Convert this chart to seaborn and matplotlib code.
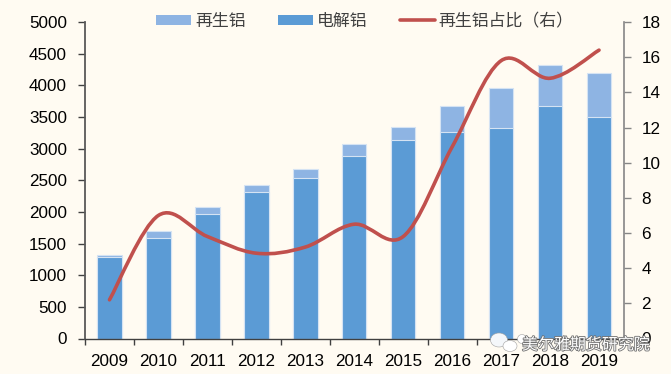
import numpy as np
import pandas as pd
import seaborn as sns
import matplotlib
matplotlib.use("Agg")
import matplotlib.pyplot as plt
import matplotlib.patheffects as pe
from matplotlib.lines import Line2D
from matplotlib.patches import Patch, PathPatch, Ellipse
from matplotlib.path import Path

years = ["2009", "2010", "2011", "2012", "2013", "2014", "2015", "2016", "2017", "2018", "2019"]
electrolytic = [1280, 1580, 1960, 2310, 2540, 2890, 3140, 3270, 3330, 3680, 3500]
recycled = [40, 120, 120, 120, 140, 190, 200, 400, 620, 640, 700]
share = [2.2, 7.0, 5.8, 4.85, 5.2, 6.5, 5.8, 10.9, 15.8, 14.8, 16.4]

BG = "#FFFBF2"
DARK_BLUE = "#5B9BD5"
LIGHT_BLUE = "#8EB4E3"
RED = "#C0504D"
EDGE = "#D5E3F3"
CJK = ["Noto Sans CJK SC", "DejaVu Sans"]


# Excel style smoothed line, as bezier segments through the values
def smooth_path(x, y, tension=0.17):
    x = np.asarray(x, dtype=float)
    y = np.asarray(y, dtype=float)
    verts = [(x[0], y[0])]
    codes = [Path.MOVETO]
    for i in range(len(x) - 1):
        p0 = i - 1 if i > 0 else i
        p3 = i + 2 if i + 2 < len(x) else i + 1
        verts.append((x[i] + (x[i + 1] - x[p0]) * tension, y[i] + (y[i + 1] - y[p0]) * tension))
        verts.append((x[i + 1] - (x[p3] - x[i]) * tension, y[i + 1] - (y[p3] - y[i]) * tension))
        verts.append((x[i + 1], y[i + 1]))
        codes += [Path.CURVE4] * 3
    return Path(verts, codes)


def main():
    sns.set_theme(style="ticks")
    plt.rcParams["font.family"] = ["Liberation Sans", "DejaVu Sans"]

    df = pd.DataFrame({"year": years, "electrolytic": electrolytic, "recycled": recycled})
    df["total"] = df["electrolytic"] + df["recycled"]

    fig = plt.figure(figsize=(6.71, 3.74), dpi=100, facecolor=BG)
    ax = fig.add_axes([85 / 671, 35.5 / 374, 538.5 / 671, 316.5 / 374], facecolor=BG)

    sns.barplot(data=df, x="year", y="total", color=LIGHT_BLUE, saturation=1, width=0.5,
                edgecolor=EDGE, linewidth=0.8, ax=ax)
    sns.barplot(data=df, x="year", y="electrolytic", color=DARK_BLUE, saturation=1, width=0.5,
                edgecolor=EDGE, linewidth=0.8, ax=ax)

    ax.set_xlim(-0.5, len(years) - 0.5)
    ax.set_ylim(0, 5000)
    ax.set_yticks(range(0, 5001, 500))
    ax.set_xlabel("")
    ax.set_ylabel("")

    # ticks sit between the categories, labels in the middle
    ax.set_xticks(np.arange(len(years) + 1) - 0.5)
    ax.set_xticklabels([])
    ax.set_xticks(np.arange(len(years)), labels=years, minor=True)
    ax.tick_params(axis="x", which="major", length=4, width=1, color="#404040")
    ax.tick_params(axis="x", which="minor", length=0, labelsize=12.3, pad=11, labelcolor="black")
    ax.tick_params(axis="y", length=5, width=1, color="#404040", labelsize=12.3, pad=8, labelcolor="black")

    ax2 = ax.twinx()
    ax2.set_ylim(0, 18)
    ax2.set_yticks(range(0, 19, 2))
    ax2.tick_params(axis="y", length=5, width=1, color="#868686", labelsize=12.3, pad=8, labelcolor="black")
    ax2.add_patch(PathPatch(smooth_path(range(len(years)), share), facecolor="none", edgecolor=RED,
                            linewidth=2.6, capstyle="round", joinstyle="round", zorder=5))

    for a in (ax, ax2):
        a.spines["top"].set_visible(False)
    ax.spines["left"].set_color("#595959")
    ax.spines["left"].set_linewidth(1.3)
    ax.spines["bottom"].set_color("#404040")
    ax.spines["bottom"].set_linewidth(1)
    ax.spines["right"].set_visible(False)
    ax2.spines["left"].set_visible(False)
    ax2.spines["bottom"].set_visible(False)
    ax2.spines["right"].set_color("#868686")
    ax2.spines["right"].set_linewidth(1.2)

    handles = [
        Patch(facecolor=LIGHT_BLUE, edgecolor="none"),
        Patch(facecolor=DARK_BLUE, edgecolor="none"),
        Line2D([0], [0], color=RED, linewidth=2.6),
    ]
    fig.legend(handles, ["再生铝", "电解铝", "再生铝占比（右）"], ncol=3, frameon=False,
               loc="center", bbox_to_anchor=(365 / 671, 1 - 21 / 374),
               prop={"family": CJK, "size": 12.2}, labelcolor="#404040",
               handlelength=2.05, handleheight=0.55, handletextpad=0.25, columnspacing=1.9)

    # watermark over the lower right corner
    for cx, cy, w, h, col in [(499, 340, 17, 14, "#F4F7FA"), (510, 346, 14, 11, "white"), (522, 339, 9, 9, "white")]:
        fig.add_artist(Ellipse((cx / 671, 1 - cy / 374), w / 671, h / 374, transform=fig.transFigure,
                               facecolor=col, edgecolor="#A0A0A0", linewidth=0.4, zorder=19))
    fig.text(650 / 671, 1 - 345 / 374, "美尔雅期货研究院", family=CJK, fontsize=11.5, color="white",
             ha="right", va="center", zorder=20,
             path_effects=[pe.withStroke(linewidth=1.2, foreground="#707070")])

    fig.savefig("out.png", dpi=100, facecolor=BG)


if __name__ == "__main__":
    main()
